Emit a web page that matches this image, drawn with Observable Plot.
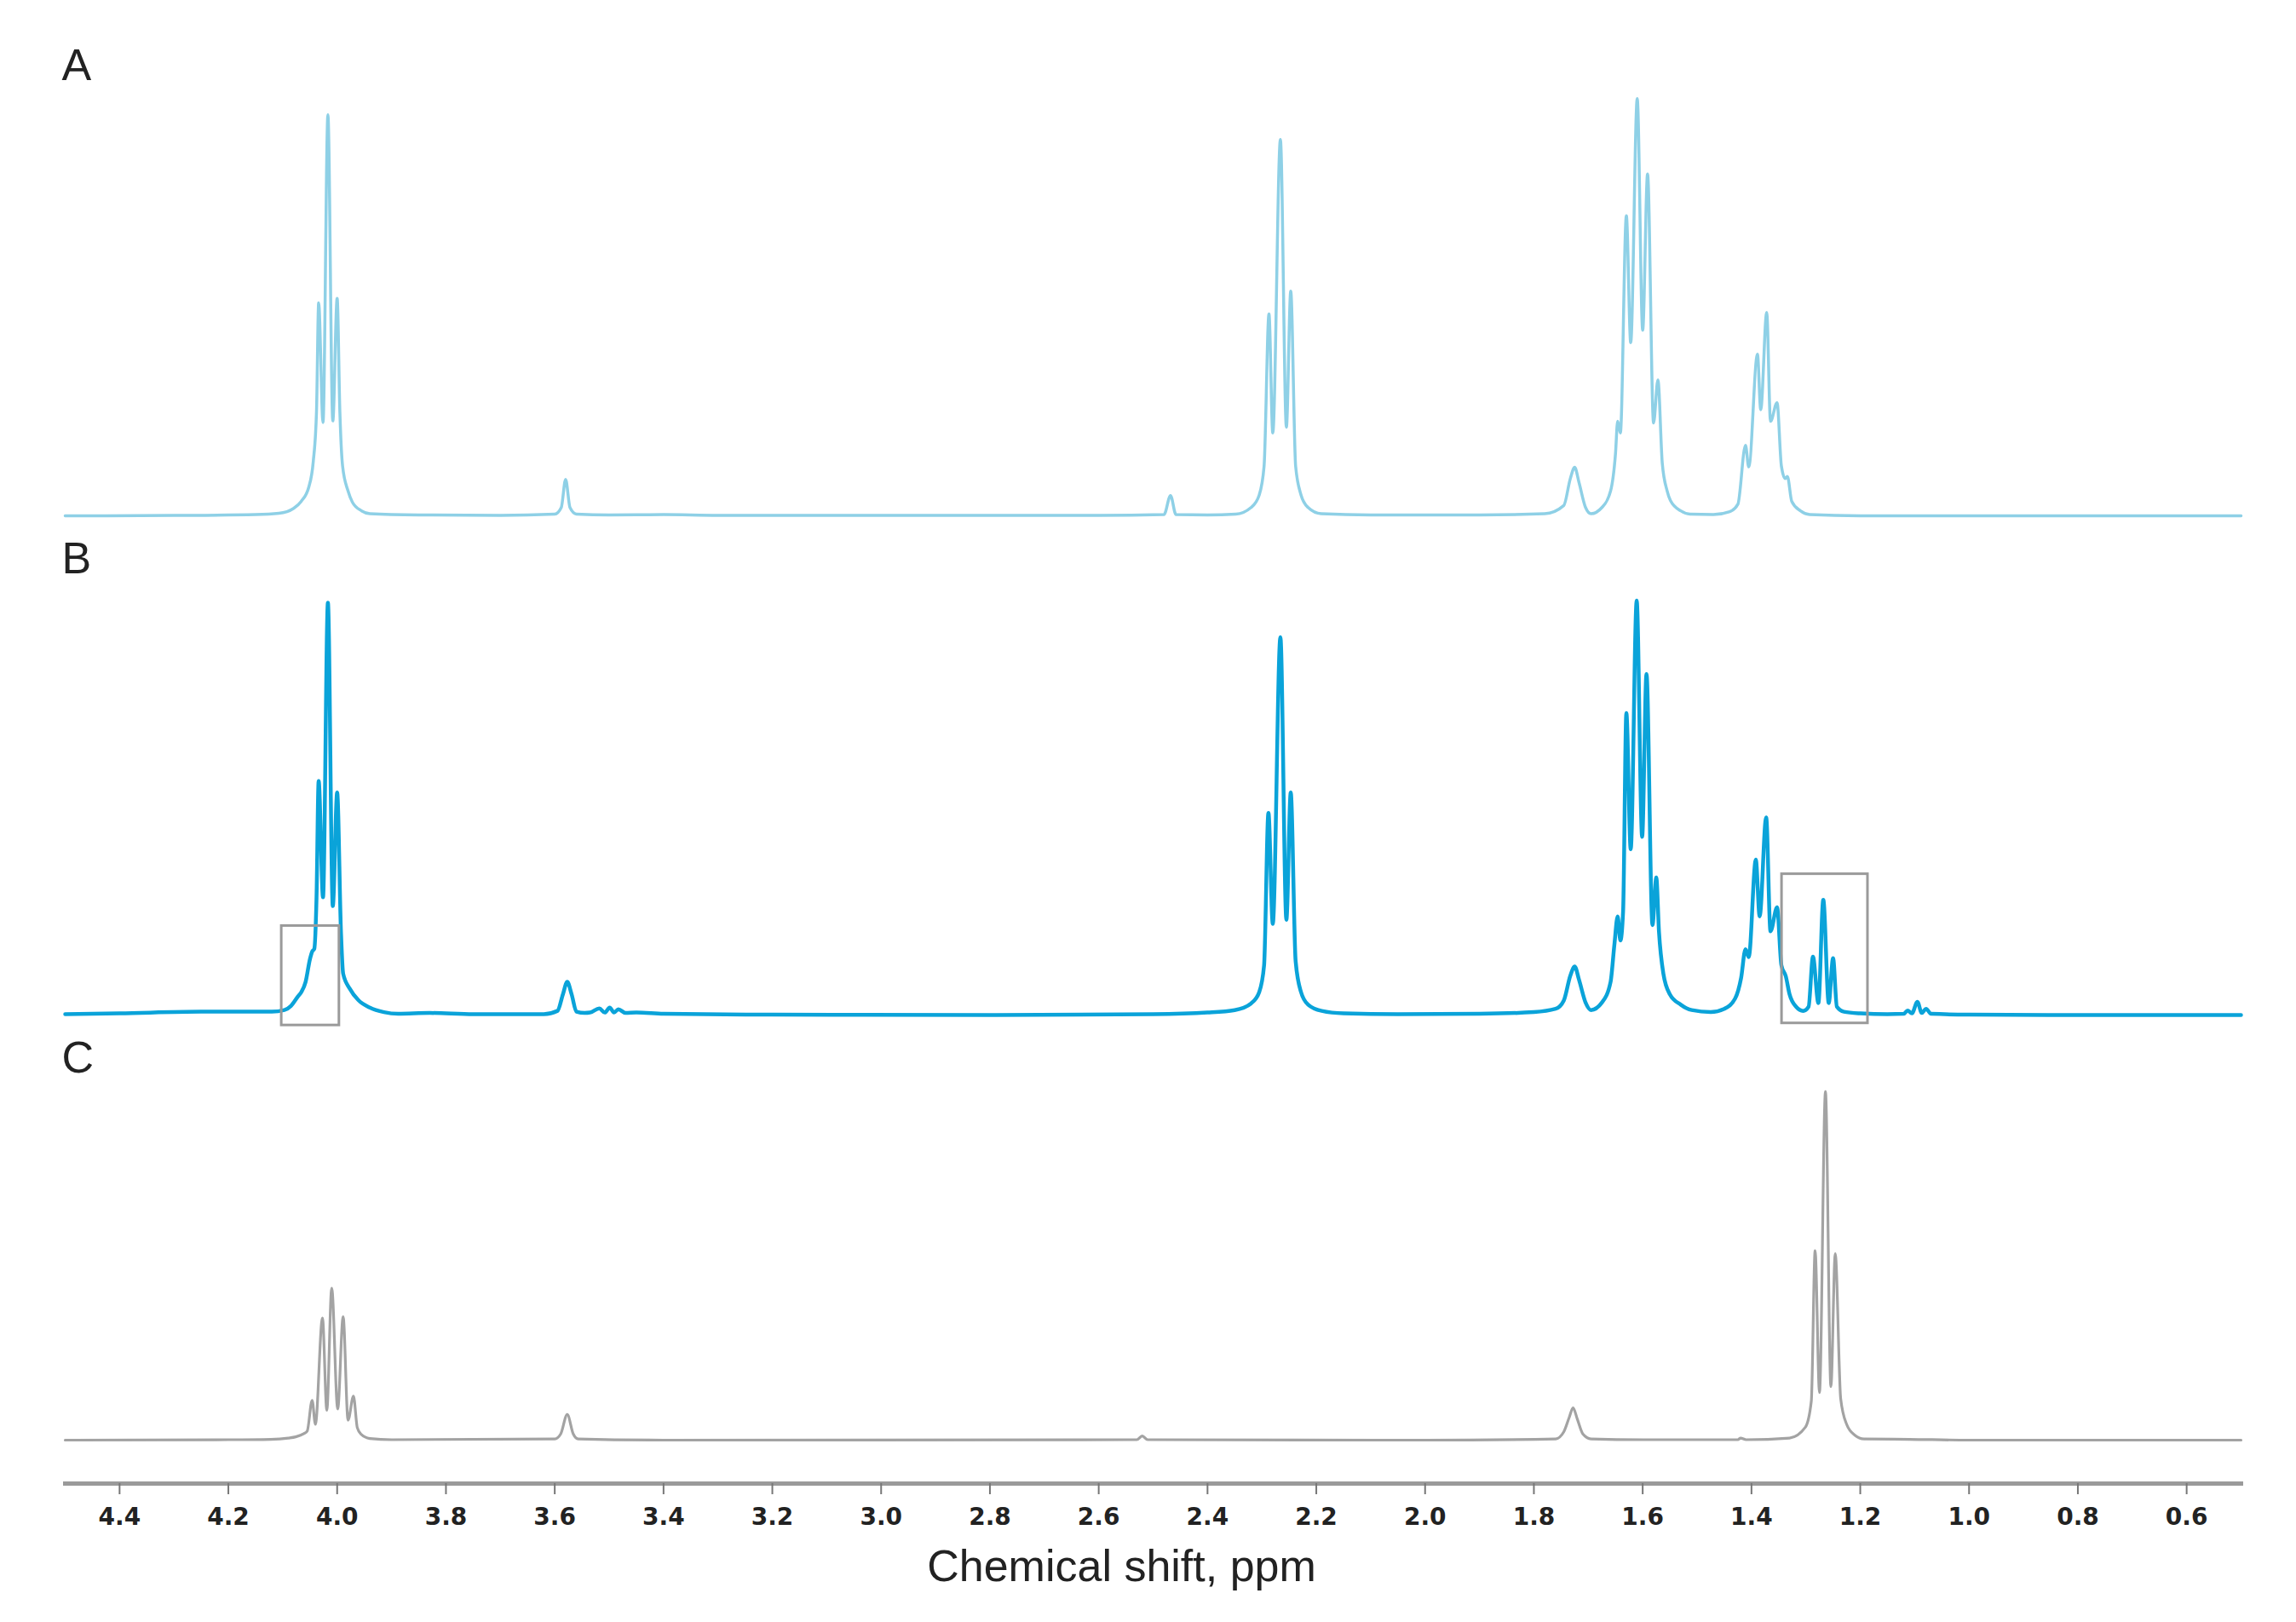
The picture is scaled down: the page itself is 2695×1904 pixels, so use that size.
<!DOCTYPE html>
<html>
<head>
<meta charset="utf-8">
<script src="https://cdn.jsdelivr.net/npm/d3@7"></script>
<script src="https://cdn.jsdelivr.net/npm/@observablehq/plot@0.6"></script>
<style>
  html, body { margin: 0; padding: 0; background: #fff; }
  #chart { width: 2695px; height: 1904px; }
  #chart svg { display: block; overflow: visible; }
</style>
</head>
<body>
<div id="chart"></div>
<script>
// ---- data: chemical shift (ppm) and relative intensity ----
const panelLabels = ["A", "B", "C"];
const tickValues = [4.4, 4.2, 4.0, 3.8, 3.6, 3.4, 3.2, 3.0, 2.8, 2.6, 2.4, 2.2, 2.0, 1.8, 1.6, 1.4, 1.2, 1.0, 0.8, 0.6];
const xTitle = "Chemical shift, ppm";

const ppmA = [4.50, 4.30, 4.15, 4.107, 4.08, 4.066, 4.052, 4.044, 4.038, 4.034, 4.026, 4.017, 4.008, 4.000, 3.995, 3.990, 3.980, 3.972, 3.955, 3.94, 3.85, 3.70, 3.60, 3.588, 3.580, 3.572, 3.56, 3.50, 3.40, 3.30, 3.00, 2.60, 2.48, 2.468, 2.458, 2.40, 2.348, 2.320, 2.305, 2.296, 2.287, 2.280, 2.266, 2.255, 2.247, 2.238, 2.228, 2.215, 2.191, 2.10, 1.90, 1.78, 1.745, 1.733, 1.725, 1.717, 1.705, 1.695, 1.675, 1.659, 1.650, 1.646, 1.641, 1.630, 1.622, 1.610, 1.600, 1.591, 1.580, 1.572, 1.564, 1.555, 1.549, 1.53, 1.513, 1.47, 1.44, 1.425, 1.411, 1.405, 1.389, 1.383, 1.372, 1.365, 1.353, 1.345, 1.338, 1.334, 1.326, 1.31, 1.293, 1.20, 1.00, 0.50];
const intA = [0, 0.1, 0.3, 0.6, 1.8, 3.5, 7, 13, 25, 51.4, 22.5, 96.8, 22.9, 52.5, 25, 12, 6, 3.3, 1.2, 0.5, 0.2, 0.1, 0.4, 2, 8.8, 2, 0.4, 0.2, 0.3, 0.1, 0.1, 0.1, 0.3, 4.9, 0.3, 0.2, 0.4, 2, 5, 12, 48.7, 20, 90.8, 21.4, 54.2, 12, 5, 2, 0.5, 0.2, 0.2, 0.5, 2.5, 9, 11.7, 8, 2, 0.5, 2, 6, 15, 22.8, 20, 72.4, 41.8, 100.7, 44.8, 82.5, 22.4, 32.8, 12.7, 6, 3.7, 1.2, 0.4, 0.3, 1, 2.8, 17, 11.8, 39, 25.6, 49.1, 22.8, 27.3, 12, 9, 9.5, 3.5, 1.2, 0.3, 0, 0, 0];

const ppmB = [4.50, 4.40, 4.25, 4.22, 4.12, 4.097, 4.085, 4.072, 4.066, 4.058, 4.050, 4.046, 4.042, 4.038, 4.034, 4.026, 4.017, 4.008, 4.000, 3.993, 3.989, 3.977, 3.961, 3.940, 3.914, 3.888, 3.83, 3.75, 3.62, 3.595, 3.585, 3.577, 3.569, 3.560, 3.545, 3.535, 3.518, 3.508, 3.499, 3.491, 3.483, 3.47, 3.45, 3.40, 3.20, 2.80, 2.50, 2.40, 2.35, 2.32, 2.305, 2.296, 2.288, 2.280, 2.266, 2.255, 2.247, 2.238, 2.228, 2.215, 2.19, 2.15, 2.05, 1.90, 1.80, 1.76, 1.745, 1.733, 1.725, 1.717, 1.705, 1.695, 1.675, 1.659, 1.652, 1.646, 1.641, 1.636, 1.630, 1.622, 1.611, 1.601, 1.593, 1.582, 1.575, 1.570, 1.562, 1.550, 1.53, 1.51, 1.475, 1.45, 1.43, 1.419, 1.411, 1.405, 1.392, 1.385, 1.373, 1.365, 1.353, 1.345, 1.337, 1.330, 1.318, 1.305, 1.295, 1.287, 1.277, 1.268, 1.258, 1.250, 1.243, 1.23, 1.20, 1.15, 1.12, 1.113, 1.105, 1.095, 1.087, 1.079, 1.07, 1.00, 0.80, 0.50];
const intB = [0.2, 0.4, 0.8, 0.8, 0.8, 1.2, 2.2, 4.5, 5.5, 8, 13.5, 15.3, 16, 28, 56.5, 28.4, 99.5, 26.3, 53.7, 20, 10, 6.4, 3.6, 1.8, 0.7, 0.3, 0.5, 0.2, 0.2, 1, 5, 8, 5, 0.8, 0.5, 0.6, 1.6, 0.6, 1.8, 0.6, 1.4, 0.5, 0.6, 0.3, 0.1, 0, 0.2, 0.6, 1.2, 2.8, 5.5, 12, 48.8, 22, 91.2, 23, 53.7, 13, 5.5, 2.5, 1, 0.4, 0.2, 0.3, 0.7, 1.5, 3.5, 9.5, 11.7, 8.5, 3, 1.2, 3, 8, 17, 23.8, 18, 25, 72.9, 40, 100, 43, 82.3, 21.7, 33.2, 20, 10, 5, 2.5, 1.2, 0.7, 1.5, 4, 9, 15.9, 14, 37.5, 23.8, 47.7, 20.2, 26, 12, 9.4, 5, 2, 1, 2, 14.1, 2.9, 27.8, 2.9, 13.7, 2, 0.8, 0.4, 0.2, 0.3, 1.1, 0.4, 3.2, 0.5, 1.5, 0.3, 0.1, 0, 0];

const ppmC = [4.50, 4.20, 4.122, 4.090, 4.076, 4.062, 4.055, 4.046, 4.040, 4.027, 4.019, 4.010, 3.999, 3.989, 3.980, 3.970, 3.963, 3.956, 3.94, 3.90, 3.60, 3.589, 3.577, 3.566, 3.557, 3.40, 2.53, 2.52, 2.51, 2.00, 1.76, 1.745, 1.735, 1.728, 1.72, 1.71, 1.695, 1.60, 1.425, 1.42, 1.41, 1.33, 1.301, 1.290, 1.283, 1.275, 1.264, 1.254, 1.246, 1.236, 1.225, 1.21, 1.193, 1.11, 1.00, 0.50];
const intC = [0, 0.1, 0.2, 0.5, 0.8, 1.5, 2.2, 9.6, 3.8, 29.5, 7.2, 36.7, 7.5, 29.8, 4.8, 10.6, 3, 1.4, 0.4, 0.1, 0.3, 1.5, 6.2, 1.5, 0.3, 0, 0.1, 1, 0.1, 0, 0.3, 2, 5.5, 7.8, 5, 1.5, 0.3, 0.1, 0.1, 0.5, 0.1, 0.5, 3.1, 9.4, 45.7, 11.5, 84.1, 12.9, 45, 10, 3.8, 1.2, 0.3, 0.2, 0, 0];

// highlighted regions in spectrum B (ppm range, intensity range)
const boxX1 = [4.102, 1.344];
const boxX2 = [3.996, 1.186];
const boxY1 = [-2.5, -2];
const boxY2 = [21.5, 34];

// ---- build ----
const toRows = (p, v) => p.map((d, i) => ({ppm: d, v: v[i]}));
const boxes = boxX1.map((d, i) => ({x1: d, x2: boxX2[i], y1: boxY1[i], y2: boxY2[i]}));

const W = 2695, ML = 76, MR = 65;
const labelFont = "'Liberation Sans', Arial, sans-serif";

function panel({rows, color, sw, height, mb, domain, label, labelDy, extra = [], axis = false}) {
  const marks = [
    Plot.line(rows, {x: "ppm", y: "v", stroke: color, strokeWidth: sw, curve: "monotone-x", strokeLinejoin: "round"}),
    Plot.text([label], {frameAnchor: "top-left", text: d => d, dx: -4, dy: labelDy, lineAnchor: "top", textAnchor: "start", fontSize: 52, fill: "#222", fontFamily: labelFont}),
    ...extra
  ];
  if (axis) {
    marks.push(
      Plot.frame({anchor: "bottom", stroke: "#9a9a9a", strokeWidth: 5}),
      Plot.axisX({ticks: tickValues, tickFormat: d => d.toFixed(1), tickSize: 13, tickPadding: 16, stroke: "#777", strokeWidth: 2, fill: "#222", fontSize: 28, fontWeight: "bold", fontFamily: "'DejaVu Sans', Verdana, sans-serif", label: null}),
      Plot.text([xTitle], {frameAnchor: "bottom", text: d => d, dx: -37, dy: 98, lineAnchor: "middle", fontSize: 52, fill: "#222", fontFamily: labelFont})
    );
  }
  return Plot.plot({
    width: W, height, marginLeft: ML, marginRight: MR, marginTop: 0, marginBottom: mb,
    x: {domain: [4.5, 0.5], axis: null},
    y: {domain, axis: null},
    style: {background: "white", overflow: "visible"},
    marks
  });
}

const K = 4.864; // px per intensity unit (shared by all panels)
const chart = document.getElementById("chart");
chart.append(
  panel({rows: toRows(ppmA, intA), color: "#8ed0e6", sw: 3.5, height: 620, mb: 15, domain: [0, 605 / K], label: panelLabels[0], labelDy: 57}),
  panel({rows: toRows(ppmB, intB), color: "#0aa3d9", sw: 4.5, height: 590, mb: 19, domain: [0, 571 / K], label: panelLabels[1], labelDy: 16,
         extra: [Plot.rect(boxes, {x1: "x1", x2: "x2", y1: "y1", y2: "y2", fill: "none", stroke: "#9a9a9a", strokeWidth: 3})]}),
  panel({rows: toRows(ppmC, intC), color: "#a3a3a3", sw: 3.2, height: 694, mb: 163, domain: [-51 / K, 480 / K], label: panelLabels[2], labelDy: 12, axis: true})
);
</script>
</body>
</html>
